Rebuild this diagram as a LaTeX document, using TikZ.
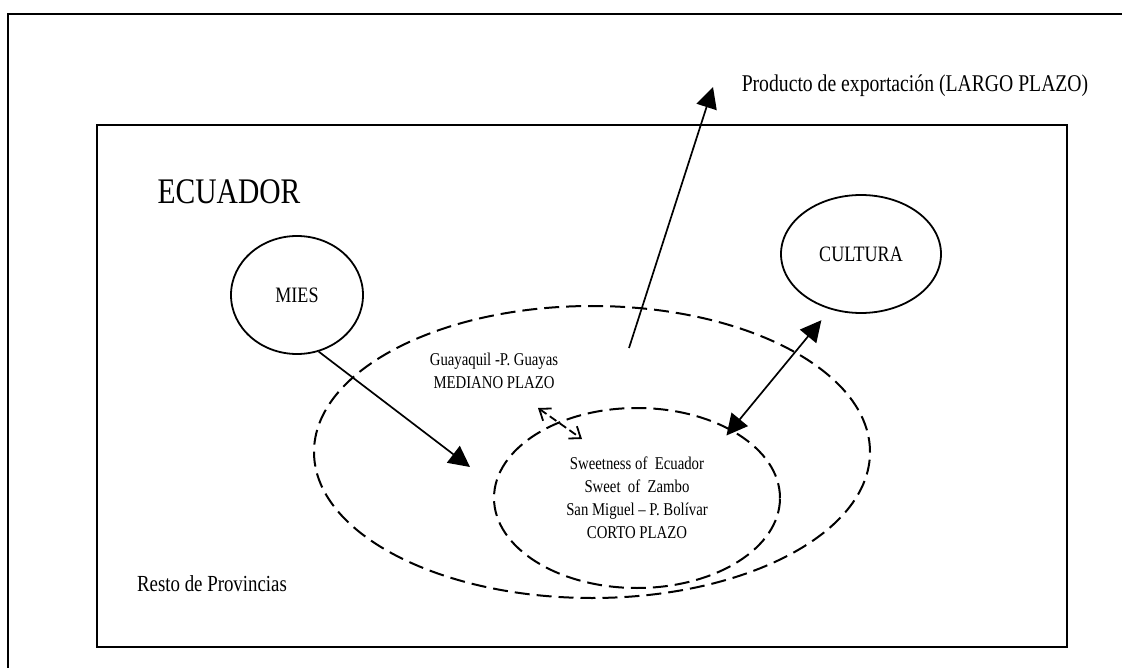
\documentclass[tikz,border=0pt]{standalone}
\usepackage{fontspec}
\setmainfont[FakeStretch=0.82]{Liberation Serif}
\usetikzlibrary{shapes.geometric,arrows.meta}
\tikzset{
  oval/.style={draw, ellipse, line width=1.8pt, inner sep=0pt},
  dashoval/.style={oval, line width=2pt, dash pattern=on 15pt off 7pt},
  arr/.style={line width=1.7pt, -{Triangle[length=21pt,width=21pt]}},
  dblarr/.style={line width=1.7pt, {Triangle[length=21pt,width=21pt]}-{Triangle[length=21pt,width=21pt]}},
  txt/.style={align=center, font=\fontsize{18}{23}\selectfont, inner sep=0pt}
}
\begin{document}
\begin{tikzpicture}[x=1pt,y=-1pt]
	\useasboundingbox (0,0) rectangle (1122,668);
	% outer frame, cut by the page
	\draw[line width=2.5pt] (8,668) -- (8,14) -- (1122,14);
	\node[draw, line width=2pt, minimum width=970pt, minimum height=522pt, inner sep=0pt] (pais) at (582,386) {};
	\node[inner sep=0pt, font=\fontsize{36}{40}\selectfont] (titulo) at (229,192) {ECUADOR};
	\node[inner sep=0pt, font=\fontsize{23}{27}\selectfont] (resto) at (212,584) {Resto de Provincias};
	\node[inner sep=0pt, font=\fontsize{24}{28}\selectfont] (export) at (915,86) {Producto de exportación (LARGO PLAZO)};
	\node[oval, minimum width=132pt, minimum height=118pt, font=\fontsize{22}{26}\selectfont] (mies) at (297,295) {MIES};
	\node[oval, minimum width=160pt, minimum height=118pt, font=\fontsize{22}{26}\selectfont] (cultura) at (861,254) {CULTURA};
	\node[dashoval, minimum width=556pt, minimum height=292pt] (guayas) at (592,452) {};
	\node[txt] (guayas txt) at (494,371) {Guayaquil -P. Guayas\\MEDIANO PLAZO};
	\node[dashoval, txt, minimum width=286pt, minimum height=180pt] (bolivar) at (637,498)
		{Sweetness of\ \ Ecuador\\Sweet\ \ of\ \ Zambo\\San Miguel -- P. Bolívar\\CORTO PLAZO};
	% arrows
	\coordinate (mies tip) at (470,467);
	\draw[arr] (mies.-69) -- (mies tip);
	\coordinate (prod base) at (629,348);
	\coordinate (prod tip) at (713,87);
	\draw[arr] (prod base) -- (prod tip);
	\draw[dblarr, shorten <=-8pt, shorten >=14pt] (bolivar.36) -- (cultura.-119);
	\coordinate (link a) at (538,408);
	\coordinate (link b) at (582,439);
	\draw[line width=1.8pt, dash pattern=on 8pt off 4pt, {Straight Barb[length=10pt,width=15pt]}-{Straight Barb[length=10pt,width=15pt]}] (link a) -- (link b);
\end{tikzpicture}
\end{document}
